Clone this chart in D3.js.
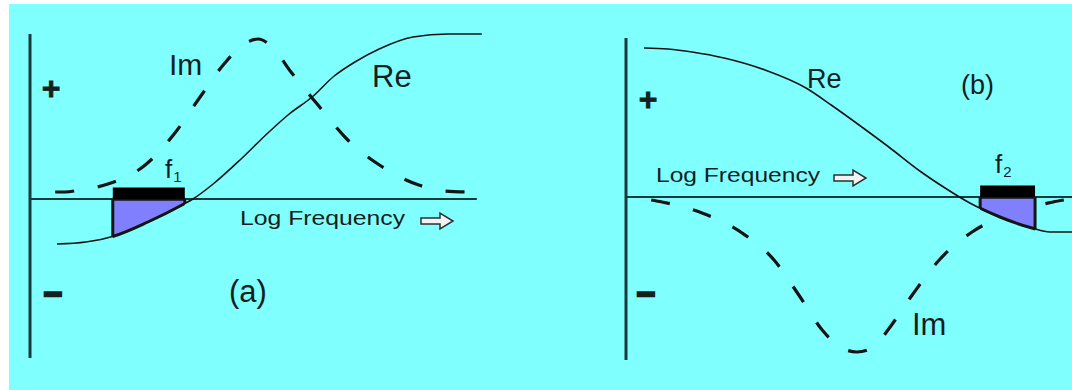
<!DOCTYPE html>
<html>
<head>
<meta charset="utf-8">
<script src="https://cdn.jsdelivr.net/npm/d3@7"></script>
<style>
  html, body { margin: 0; padding: 0; background: #ffffff; overflow: hidden; }
  svg { display: block; }
  text { font-family: "Liberation Sans", Arial, sans-serif; fill: #161e1e; }
</style>
</head>
<body>
<svg id="chart" width="1072" height="390"></svg>
<script>
// ---- Panel (a): response vs log frequency ----
const reA_logf = [0.60, 1.24, 1.87, 2.62, 3.42, 3.62, 4.07, 4.69, 5.31, 5.76, 6.27, 6.76, 7.22, 7.76, 8.51, 9.29, 10.04];
const reA_val  = [-0.45, -0.43, -0.37, -0.23, -0.05, 0.00, 0.15, 0.40, 0.67, 0.85, 1.02, 1.23, 1.37, 1.50, 1.62, 1.65, 1.65];
const imA_logf = [0.56, 0.78, 1.11, 1.73, 2.56, 3.22, 3.78, 4.33, 4.73, 5.07, 5.42, 5.80, 6.40, 7.04, 7.80, 8.64, 9.22, 9.78];
const imA_val  = [0.07, 0.07, 0.09, 0.15, 0.34, 0.66, 1.02, 1.36, 1.54, 1.60, 1.50, 1.27, 0.94, 0.60, 0.33, 0.14, 0.08, 0.07];
const bandA = [1.84, 3.44];   // f1 window

// ---- Panel (b) ----
const reB_logf = [0.40, 0.93, 1.47, 2.18, 3.09, 4.00, 4.56, 5.24, 5.84, 6.56, 7.09, 7.64, 8.31, 9.02, 9.42, 9.91];
const reB_val  = [1.49, 1.48, 1.45, 1.39, 1.27, 1.09, 0.92, 0.70, 0.50, 0.25, 0.09, -0.06, -0.20, -0.31, -0.35, -0.35];
const imB_logf = [0.56, 0.80, 1.69, 2.58, 3.29, 3.84, 4.36, 4.76, 5.13, 5.51, 5.82, 6.36, 6.96, 7.69, 8.53, 9.49, 9.73];
const imB_val  = [-0.03, -0.05, -0.16, -0.36, -0.63, -0.98, -1.33, -1.50, -1.55, -1.50, -1.33, -0.98, -0.63, -0.35, -0.17, -0.05, -0.03];
const bandB = [7.87, 9.09];   // f2 window

const svg = d3.select("#chart");
const W = 1072, H = 390;

// cyan sheet with a thin white margin on the left and top
svg.append("rect").attr("x", 9).attr("y", 4).attr("width", W - 9).attr("height", H - 4).attr("fill", "#80ffff");

const AXIS = "#173a3a", INK = "#141414", BAND = "#8080ff";

function zip(xs, ys) { return xs.map((x, i) => ({ x, y: ys[i] })); }

function arrow(g, x, y) {
  // hollow double-stroke arrow used after the axis caption
  const p = d3.path();
  p.moveTo(x, y - 3); p.lineTo(x + 19, y - 3); p.lineTo(x + 19, y - 8);
  p.lineTo(x + 32, y); p.lineTo(x + 19, y + 8); p.lineTo(x + 19, y + 3);
  p.lineTo(x, y + 3); p.closePath();
  g.append("path").attr("d", p.toString()).attr("fill", "#f2f2f2")
    .attr("stroke", "#2a3030").attr("stroke-width", 1.5).attr("stroke-linejoin", "miter");
}

function panel(cfg) {
  const g = svg.append("g");
  const x = d3.scaleLinear().domain([0, 10]).range(cfg.xRange);
  const y = d3.scaleLinear().domain(cfg.yDomain).range(cfg.yRange);
  const line = d3.line().x(d => x(d.x)).y(d => y(d.y)).curve(d3.curveMonotoneX);

  // axes
  g.append("line").attr("x1", x(0)).attr("x2", x(0))
    .attr("y1", y(cfg.yDomain[1])).attr("y2", y(cfg.yDomain[0]))
    .attr("stroke", AXIS).attr("stroke-width", 3);
  g.append("line").attr("x1", x(0)).attr("x2", x(cfg.axisEnd))
    .attr("y1", y(0)).attr("y2", y(0))
    .attr("stroke", AXIS).attr("stroke-width", 2);

  const re = zip(cfg.reX, cfg.reY);
  const im = zip(cfg.imX, cfg.imY);

  g.append("path").datum(re).attr("d", line).attr("fill", "none")
    .attr("stroke", INK).attr("stroke-width", 1.6);
  g.append("path").datum(im).attr("d", line).attr("fill", "none")
    .attr("stroke", INK).attr("stroke-width", 3.2).attr("stroke-dasharray", "19,24");

  // shaded region between the axis and Re inside the window
  const bx0 = x(cfg.band[0]), bx1 = x(cfg.band[1]);
  const area = d3.area().x(d => x(d.x)).y0(y(0)).y1(d => y(d.y)).curve(d3.curveMonotoneX);
  const bandClip = svg.append("clipPath").attr("id", cfg.id + "-band");
  bandClip.append("rect").attr("x", bx0).attr("y", 0).attr("width", bx1 - bx0).attr("height", H);
  const areaClip = svg.append("clipPath").attr("id", cfg.id + "-area");
  areaClip.append("path").datum(re).attr("d", area);

  g.append("path").datum(re).attr("d", area)
    .attr("clip-path", `url(#${cfg.id}-band)`)
    .attr("fill", BAND).attr("stroke", INK).attr("stroke-width", 3);
  g.append("rect").attr("x", bx0).attr("y", y(0)).attr("width", bx1 - bx0).attr("height", 80)
    .attr("clip-path", `url(#${cfg.id}-area)`)
    .attr("fill", "none").attr("stroke", INK).attr("stroke-width", 3);

  // black window bar on the axis
  g.append("rect").attr("x", bx0).attr("y", y(0.115)).attr("width", bx1 - bx0)
    .attr("height", y(0) - y(0.115)).attr("fill", "#000");

  // labels
  const t = (txt, tx, ty, size, extra) => {
    const e = g.append("text").attr("x", tx).attr("y", ty).attr("font-size", size).text(txt);
    if (extra) extra(e);
    return e;
  };
  cfg.labels.forEach(l => t(l.text, l.x, l.y, l.size, l.extra));

  const fx = g.append("text").attr("x", cfg.f.x).attr("y", cfg.f.y).attr("font-size", 26);
  fx.append("tspan").text("f");
  fx.append("tspan").attr("font-size", 15).attr("dy", 4).attr("dx", 1).text(cfg.f.sub);

  // sign markers
  g.append("text").attr("x", cfg.plus[0]).attr("y", cfg.plus[1]).attr("font-size", 32)
    .attr("font-weight", "bold").attr("text-anchor", "middle").attr("dominant-baseline", "central")
    .attr("stroke", "#161e1e").attr("stroke-width", 0.8).text("+");
  g.append("text").attr("x", cfg.minus[0]).attr("y", cfg.minus[1]).attr("font-size", 32)
    .attr("font-weight", "bold").attr("text-anchor", "middle").attr("dominant-baseline", "central")
    .attr("stroke", "#161e1e").attr("stroke-width", 2.4).text("\u2212");

  arrow(g, cfg.arrow[0], cfg.arrow[1]);
}

panel({
  id: "pa",
  xRange: [30, 480], yDomain: [-1.59, 1.65], yRange: [358, 34], axisEnd: 9.93,
  reX: reA_logf, reY: reA_val, imX: imA_logf, imY: imA_val, band: bandA,
  labels: [
    { text: "Im", x: 169, y: 75, size: 30 },
    { text: "Re", x: 372, y: 87, size: 31 },
    { text: "Log Frequency", x: 240, y: 225, size: 21,
      extra: e => e.attr("textLength", 165).attr("lengthAdjust", "spacingAndGlyphs") },
    { text: "(a)", x: 229, y: 302, size: 31 }
  ],
  f: { x: 165, y: 178, sub: "1" },
  plus: [51, 88], minus: [53, 293.5],
  arrow: [421, 221]
});

panel({
  id: "pb",
  xRange: [626, 1076], yDomain: [-1.63, 1.59], yRange: [360, 38], axisEnd: 9.95,
  reX: reB_logf, reY: reB_val, imX: imB_logf, imY: imB_val, band: bandB,
  labels: [
    { text: "Re", x: 807, y: 88, size: 27 },
    { text: "(b)", x: 961, y: 94, size: 27 },
    { text: "Im", x: 912, y: 335, size: 31 },
    { text: "Log Frequency", x: 656, y: 182, size: 21,
      extra: e => e.attr("textLength", 164).attr("lengthAdjust", "spacingAndGlyphs") }
  ],
  f: { x: 995, y: 173, sub: "2" },
  plus: [648, 99], minus: [646, 293.5],
  arrow: [834, 178]
});
</script>
</body>
</html>
